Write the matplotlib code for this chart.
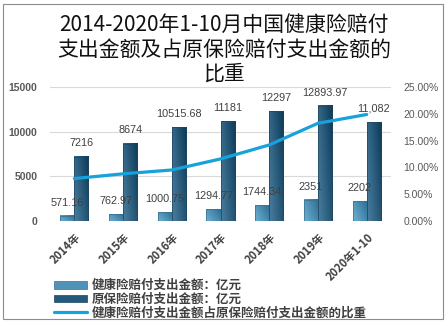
import numpy as np
import matplotlib
matplotlib.use('Agg')
import matplotlib.pyplot as plt
from matplotlib.colors import LinearSegmentedColormap
from matplotlib.patches import Rectangle
from matplotlib.ticker import FuncFormatter

cjk = ['Noto Sans CJK SC', 'DejaVu Sans']
plt.rcParams['font.family'] = cjk

years = ['2014年', '2015年', '2016年', '2017年', '2018年', '2019年', '2020年1-10']
health = [571.16, 762.97, 1000.75, 1294.77, 1744.34, 2351, 2202]
original = [7216, 8674, 10515.68, 11181, 12297, 12893.97, 11082]
ratio = [0.0792, 0.0880, 0.0952, 0.1158, 0.1419, 0.1823, 0.1987]
health_lbl = ['571.16', '762.97', '1000.75', '1294.77', '1744.34', '2351', '2202']
orig_lbl = ['7216', '8674', '10515.68', '11181', '12297', '12893.97', '11,082']

fig = plt.figure(figsize=(4.48, 3.23), dpi=100)
ax = fig.add_axes([50/448, 1-221/323, 341/448, 134/323])
ax2 = ax.twinx()

x = np.arange(len(years))
w = 0.29
b1 = ax.bar(x - w/2, health, w, color='none', edgecolor='#3b6f8c', linewidth=0.5, zorder=2)
b2 = ax.bar(x + w/2, original, w, color='none', edgecolor='#1e4560', linewidth=0.5, zorder=2)

def grad(bars, c_light, c_dark):
    cmap = LinearSegmentedColormap.from_list('g', [c_light, c_dark])
    xx, yy = np.meshgrid(np.linspace(0, 1, 30), np.linspace(0, 1, 60))
    z = 0.65 * xx + 0.35 * yy
    for b in bars:
        bx, by = b.get_xy()
        ax.imshow(z, extent=[bx, bx + b.get_width(), by, by + b.get_height()],
                  cmap=cmap, aspect='auto', origin='lower', zorder=1.9, vmin=0, vmax=1)

grad(b1, '#6cb0d2', '#2c6e92')
grad(b2, '#4a7fa0', '#0c3a58')

ax.set_xlim(-0.5, len(years) - 0.5)
ax.set_ylim(0, 15000)
ax.set_yticks([0, 5000, 10000, 15000])
ax.grid(axis='y', color='#d9d9d9', linewidth=0.8, zorder=0)
ax.set_axisbelow(True)
for s in ax.spines.values():
    s.set_visible(False)
for s in ax2.spines.values():
    s.set_visible(False)
ax.tick_params(length=0)
ax2.tick_params(length=0)
for t in ax.get_yticklabels():
    t.set_fontfamily('Liberation Sans')
    t.set_fontweight('bold')
    t.set_fontsize(7.5)
    t.set_color('#595959')
ax.tick_params(axis='y', pad=9)

ax.set_xticks(x)
ax.set_xticklabels(years, rotation=45, ha='right', rotation_mode='anchor',
                   fontsize=8, fontweight='bold', color='#404040')
ax.tick_params(axis='x', pad=7)

for i in range(len(x)):
    ax.annotate(health_lbl[i], (x[i] - w/2, health[i]), xytext=(0, 9.5), textcoords='offset points',
                ha='center', va='center', fontsize=7.8, family='Liberation Sans', color='#404040', zorder=5)
    ax.annotate(orig_lbl[i], (x[i] + w/2, original[i]), xytext=(0, 9.5), textcoords='offset points',
                ha='center', va='center', fontsize=7.8, family='Liberation Sans', color='#404040', zorder=5)

ln, = ax2.plot(x, ratio, color='#17a2dc', linewidth=2.3, solid_capstyle='round')
ax2.set_ylim(0, 0.25)
ax2.set_yticks(np.arange(0, 0.2501, 0.05))
ax2.yaxis.set_major_formatter(FuncFormatter(lambda v, p: f'{v*100:.2f}%'))
for t in ax2.get_yticklabels():
    t.set_fontfamily('Liberation Sans')
    t.set_fontsize(7.5)
    t.set_color('#595959')
ax2.tick_params(axis='y', pad=9)

fig.text(0.5, 1 - 14/323, '2014-2020年1-10月中国健康险赔付\n支出金额及占原保险赔付支出金额的\n比重',
         ha='center', va='top', fontsize=15, linespacing=1.15, color='#111111')

leg = fig.legend([b1, b2, ln],
                 ['健康险赔付支出金额：亿元', '原保险赔付支出金额：亿元', '健康险赔付支出金额占原保险赔付支出金额的比重'],
                 loc='upper left', bbox_to_anchor=(48/448, 1 - 273/323), frameon=False,
                 prop={'size': 9, 'weight': 'bold'}, labelspacing=0.05, handlelength=2.6,
                 handletextpad=0.4, borderpad=0, handleheight=0.6)
for t in leg.get_texts():
    t.set_color('#404040')
leg.legend_handles[0].set_facecolor('#4f93b8')
leg.legend_handles[1].set_facecolor('#235a7c')

fig.patches.append(Rectangle((3/448, 4/323), 440/448, 315/323, transform=fig.transFigure,
                             fill=False, edgecolor='#8c8c8c', linewidth=0.8))

fig.savefig('out.png', dpi=100)
